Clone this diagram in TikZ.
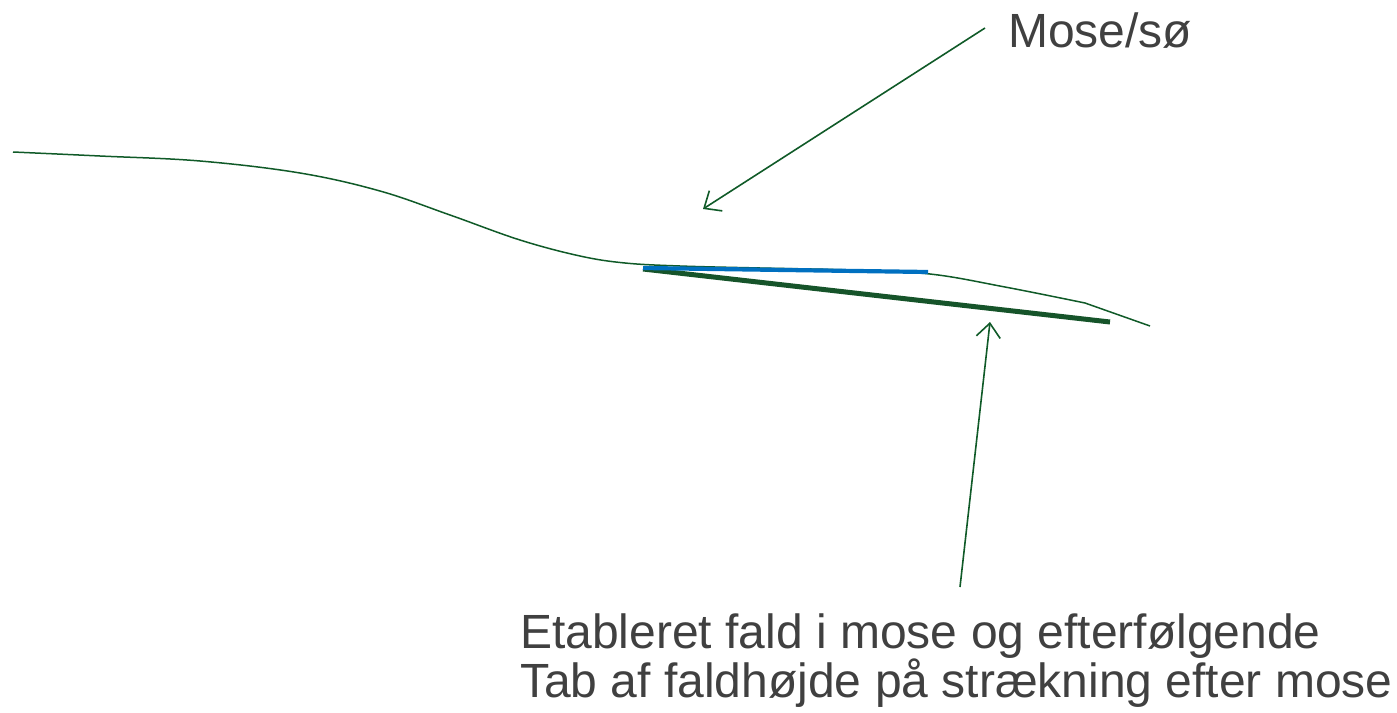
\documentclass[tikz,border=0pt]{standalone}
\usepackage{fontspec}
\setmainfont{Liberation Sans}
\usetikzlibrary{arrows.meta}
\definecolor{thingreen}{RGB}{16,90,40}
\definecolor{thickgreen}{RGB}{22,84,42}
\definecolor{lakeblue}{RGB}{0,112,192}
\definecolor{labelgray}{RGB}{64,64,64}
\tikzset{
  terrain/.style={draw=thingreen, line width=1.5pt},
  pointer/.style={draw=thingreen, line width=1.6pt, -{Straight Barb[length=14pt,width=24pt,line width=1.6pt]}},
  label/.style={text=labelgray, inner sep=0pt, font=\fontsize{48}{49}\selectfont, align=left}
}
\begin{document}
\begin{tikzpicture}[x=1pt,y=-1pt]
\useasboundingbox (0,0) rectangle (1397,712);
% terrain profile
\draw[terrain] plot[smooth, tension=0.6] coordinates {(13,152) (100,156) (200,161) (300,173) (380,191) (450,215) (520,240) (580,256) (625,263) (680,266) (760,268) (850,270) (930,274) (1005,287) (1085,303)} -- (1150,326);
% established fall (thick green) and lake level (blue)
\coordinate (g1) at (643,269);
\coordinate (g2) at (1110,322);
\coordinate (b1) at (643,268);
\coordinate (b2) at (928,272);
\draw[draw=thickgreen, line width=5pt] (g1) -- (g2);
\draw[draw=lakeblue, line width=4.2pt] (b1) -- (b2);
% labels
\node[label, anchor=base west] (mose) at (1008,47) {Mose/sø};
\node[label, anchor=base west] (tab) at (520,697) {Etableret fald i mose og efterfølgende\\Tab af faldhøjde på strækning efter mose};
% pointers
\coordinate (p1s) at (985,28);
\coordinate (p1e) at (703,209);
\coordinate (p2s) at (960,587);
\coordinate (p2e) at (990,322);
\draw[pointer] (p1s) -- (p1e);
\draw[pointer] (p2s) -- (p2e);
\end{tikzpicture}
\end{document}
